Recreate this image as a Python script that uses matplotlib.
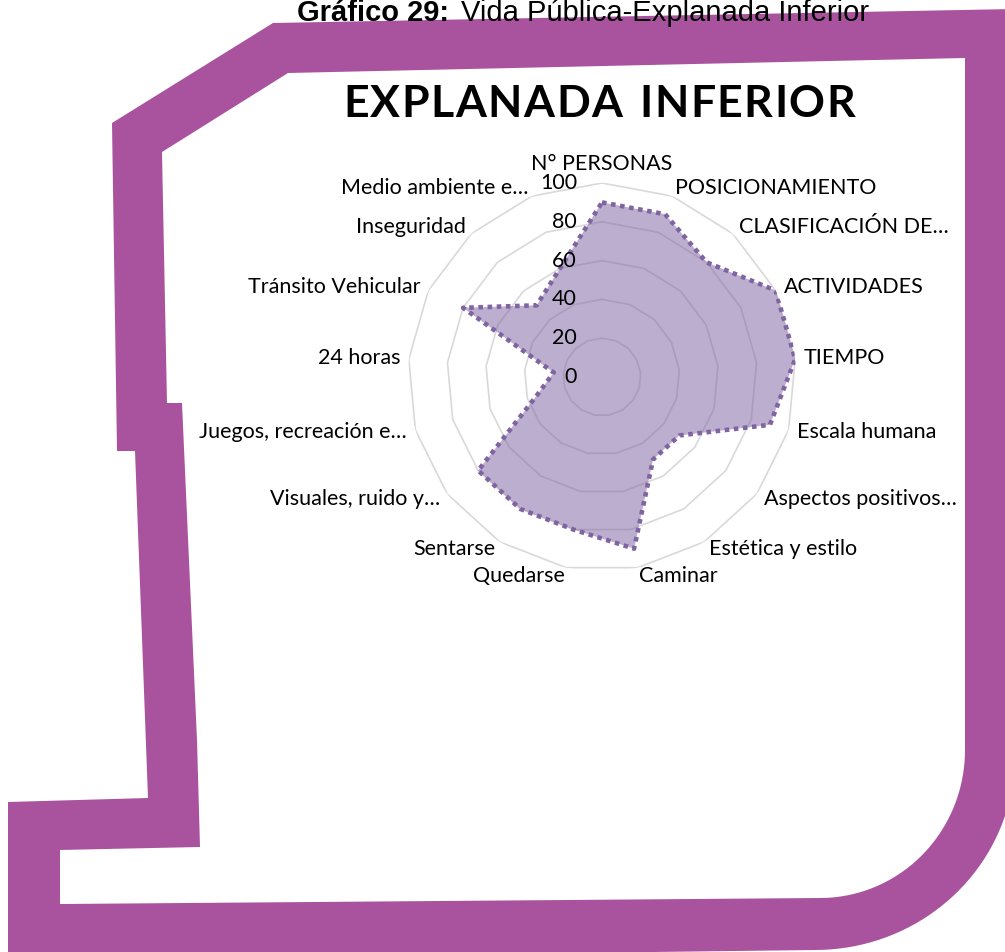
import numpy as np
import matplotlib
matplotlib.use("Agg")
import matplotlib.pyplot as plt
import matplotlib.transforms as mtrans

# data
categories = ["N° PERSONAS", "POSICIONAMIENTO", "CLASIFICACIÓN DE…", "ACTIVIDADES",
              "TIEMPO", "Escala humana", "Aspectos positivos…", "Estética y estilo",
              "Caminar", "Quedarse", "Sentarse", "Visuales, ruido y…",
              "Juegos, recreación e…", "24 horas", "Tránsito Vehicular",
              "Inseguridad", "Medio ambiente e…"]
values = [90, 90, 80, 100, 100, 90, 50, 50, 90, 80, 80, 80, 35, 25, 80, 50, 60]
rticks = [0, 20, 40, 60, 80, 100]

chart_title = "EXPLANADA INFERIOR"
caption_bold = "Gráfico 29:"
caption_rest = "Vida Pública-Explanada Inferior"

purple = "#a9539f"
series_col = "#8064a2"

W, H = 1005, 952
fig = plt.figure(figsize=(W / 100, H / 100), dpi=100)
fig.patch.set_facecolor("white")

# decorative frame, drawn in pixel coords
bg = fig.add_axes([0, 0, 1, 1])
bg.set_xlim(0, W)
bg.set_ylim(H, 0)
bg.axis("off")

t = np.linspace(0, np.pi / 2, 40)
outer = [(112, 123), (273, 23), (1015, 9), (1015, 755)]
outer += list(zip(815 + 200 * np.cos(t), 755 + 195 * np.sin(t)))
outer += [(8, 960), (8, 802), (148, 798), (135, 451), (117, 451)]
inner = [(162, 152), (288, 73), (965, 58), (965, 750)]
inner += list(zip(820 + 145 * np.cos(t), 750 + 148 * np.sin(t)))
inner += [(60, 904), (60, 850), (200, 847), (197, 740), (182, 403), (167, 403)]
bg.fill(*zip(*outer), color=purple, lw=0)
bg.fill(*zip(*inner), color="white", lw=0)

# caption at the very top
fig.text(449 / W, 1 - 21 / H, caption_bold, ha="right", va="baseline",
         fontsize=21, fontweight="bold", family="Liberation Sans", color="black")
fig.text(461 / W, 1 - 21 / H, caption_rest, ha="left", va="baseline",
         fontsize=21, family="Liberation Sans", color="black")

# spaced chart title
renderer = fig.canvas.get_renderer()
letters = []
for ch in chart_title:
    tx = fig.text(0, 1 - 117 / H, ch, fontsize=32, fontweight="bold",
                  family="Lato", color="black", va="baseline", ha="left")
    letters.append(tx)
widths = []
for ch, tx in zip(chart_title, letters):
    widths.append(14 if ch == " " else tx.get_window_extent(renderer).width)
target = 512
gap = (target - sum(widths)) / (len(widths) - 1)
x = 343
for w, tx in zip(widths, letters):
    tx.set_x(x / W)
    x += w + gap

# radar
cx, cy, R = 602, 377, 194
ax = fig.add_axes([(cx - R) / W, 1 - (cy + R) / H, 2 * R / W, 2 * R / H],
                  projection="polar")
ax.set_theta_zero_location("N")
ax.set_theta_direction(-1)
ax.set_ylim(0, 100)
ax.patch.set_visible(False)
ax.spines["polar"].set_visible(False)
ax.grid(False)
ax.set_xticks([])
ax.set_yticks([])

n = len(categories)
ang = np.linspace(0, 2 * np.pi, n, endpoint=False)
angc = np.append(ang, ang[0])
for r in rticks[1:]:
    ax.plot(angc, [r] * (n + 1), color="#d9d9d9", lw=1.2, zorder=1)

vals = np.append(values, values[0])
ax.fill(angc, vals, color=series_col, alpha=0.52, lw=0, zorder=2)
ax.plot(angc, vals, color=series_col, lw=3.3, linestyle=(0, (1, 1)),
        dash_capstyle="butt", zorder=3)

shift = mtrans.ScaledTranslation(-0.25, 0, fig.dpi_scale_trans)
for r in rticks:
    ax.text(0, r, str(r), ha="right", va="center", fontsize=15.5,
            family="Lato", color="black", transform=ax.transData + shift,
            zorder=5)

for a, lab in zip(ang, categories):
    s, c = np.sin(a), np.cos(a)
    if abs(s) < 0.05:
        ha, va = "center", "bottom"
    else:
        ha, va = ("left" if s > 0 else "right"), "center"
    ax.text(a, 104.5, lab, ha=ha, va=va, fontsize=15.5, family="Lato",
            color="black", zorder=5)

fig.savefig("out.png", dpi=100, facecolor="white")
